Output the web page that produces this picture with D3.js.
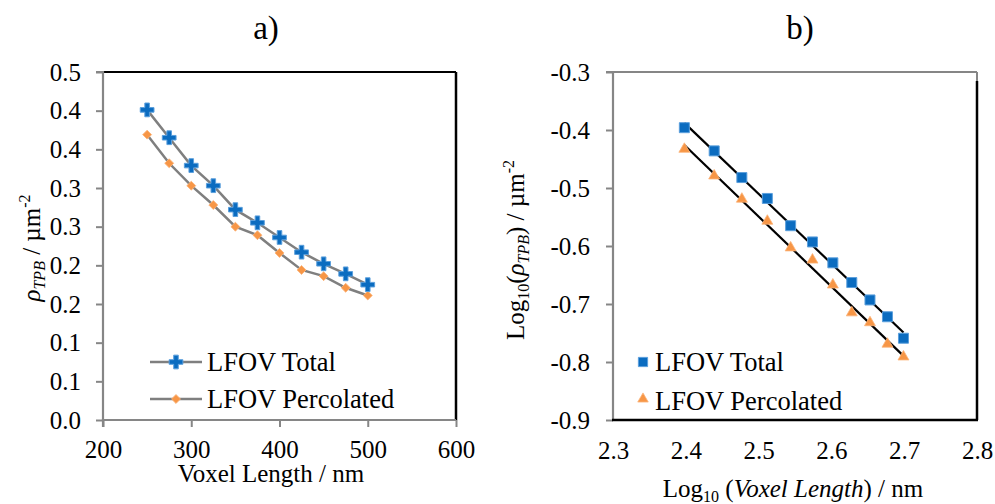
<!DOCTYPE html>
<html><head><meta charset="utf-8">
<script src="https://cdn.jsdelivr.net/npm/d3@7"></script>
<style>
html,body{margin:0;padding:0;background:#fff;}
</style></head>
<body><svg id="c" width="995" height="504"></svg>
<script>
// ---- data ----
const voxelLength = [250,275,300,325,350,375,400,425,450,475,500];
const totalDensity = [0.401,0.365,0.329,0.303,0.272,0.255,0.236,0.217,0.202,0.189,0.175];
const percolatedDensity = [0.369,0.332,0.303,0.278,0.250,0.239,0.216,0.194,0.186,0.171,0.161];
const logVoxel = [2.398,2.439,2.477,2.512,2.544,2.574,2.602,2.628,2.653,2.677,2.699];
const logTotal = [-0.396,-0.436,-0.482,-0.518,-0.565,-0.593,-0.629,-0.663,-0.693,-0.722,-0.759];
const logPercolated = [-0.433,-0.479,-0.519,-0.557,-0.603,-0.624,-0.667,-0.715,-0.732,-0.769,-0.791];
const leftYTicks = [0,0.05,0.10,0.15,0.20,0.25,0.30,0.35,0.40,0.45];
const leftYTickLabels = ["0.0","0.1","0.1","0.2","0.2","0.3","0.3","0.4","0.4","0.5"];
const leftXTicks = [200,300,400,500,600];
const rightXTicks = [2.3,2.4,2.5,2.6,2.7,2.8];
const rightYTicks = [-0.3,-0.4,-0.5,-0.6,-0.7,-0.8,-0.9];
const seriesNames = ["LFOV Total","LFOV Percolated"];

const SERIF = '"Liberation Serif", "Times New Roman", Times, serif';
const svg = d3.select("#c").attr("font-family", SERIF);
const GRAY = "#868686", BLUE = "#0b6cc0", BLUE_E = "#5b9fdc", ORANGE = "#f79646";
const FS = 25;

// helper: text content always inside a tspan
function label(sel, s){ sel.append("tspan").text(s); return sel; }

// ---------------- Panel a ----------------
const A = {l:103, r:456, t:72, b:420};
const xa = d3.scaleLinear().domain([200,600]).range([A.l, A.r]);
const ya = d3.scaleLinear().domain([0,0.45]).range([A.b, A.t]);
const ga = svg.append("g");

ga.append("line").attr("x1",A.l).attr("x2",A.r).attr("y1",A.t).attr("y2",A.t).attr("stroke","#000").attr("stroke-width",2);
ga.append("line").attr("x1",A.r).attr("x2",A.r).attr("y1",A.t).attr("y2",A.b).attr("stroke","#000").attr("stroke-width",2.5);

const axLa = ga.append("g").attr("transform",`translate(${A.l},0)`)
  .call(d3.axisLeft(ya).tickValues(leftYTicks).tickFormat((d,i)=>leftYTickLabels[i]).tickSize(7).tickPadding(15));
const axBa = ga.append("g").attr("transform",`translate(0,${A.b})`)
  .call(d3.axisBottom(xa).tickValues(leftXTicks).tickFormat(d3.format("d")).tickSize(7).tickPadding(13));
axLa.select(".domain").attr("d",`M-7,${A.t}H0V${A.b}`);
axBa.select(".domain").attr("d",`M${A.l},7V0H${A.r}`);

const lineA = d3.line().x((d,i)=>xa(voxelLength[i])).y(d=>ya(d));
ga.append("path").attr("d",lineA(totalDensity)).attr("fill","none").attr("stroke","#7f7f7f").attr("stroke-width",2.5);
ga.append("path").attr("d",lineA(percolatedDensity)).attr("fill","none").attr("stroke","#7f7f7f").attr("stroke-width",2.5);

const cross = d3.symbol().type(d3.symbolCross).size(105);
const diamond = d3.symbol().type(d3.symbolSquare).size(40);
ga.selectAll(".pd").data(percolatedDensity).join("path")
  .attr("d",diamond).attr("transform",(d,i)=>`translate(${xa(voxelLength[i])},${ya(d)}) rotate(45)`)
  .attr("fill",ORANGE).attr("stroke","#fbb47a").attr("stroke-width",0.8);
ga.selectAll(".td").data(totalDensity).join("path")
  .attr("d",cross).attr("transform",(d,i)=>`translate(${xa(voxelLength[i])},${ya(d)})`)
  .attr("fill",BLUE).attr("stroke",BLUE_E).attr("stroke-width",1);

// legend a
const legA = [{y:362, m:"cross"},{y:399, m:"diamond"}];
legA.forEach((L,i)=>{
  ga.append("line").attr("x1",150).attr("x2",202).attr("y1",L.y).attr("y2",L.y).attr("stroke","#7f7f7f").attr("stroke-width",2.5);
  if(L.m==="cross") ga.append("path").attr("d",cross).attr("transform",`translate(176,${L.y})`).attr("fill",BLUE).attr("stroke",BLUE_E).attr("stroke-width",1);
  else ga.append("path").attr("d",diamond).attr("transform",`translate(176,${L.y}) rotate(45)`).attr("fill",ORANGE).attr("stroke","#fbb47a").attr("stroke-width",0.8);
  label(ga.append("text").attr("x",207).attr("y",L.y+9).attr("font-size",26.5), seriesNames[i]);
});

// titles a
label(svg.append("text").attr("x",266).attr("y",39).attr("text-anchor","middle").attr("font-size",33), "a)");
label(svg.append("text").attr("x",271).attr("y",482).attr("text-anchor","middle").attr("font-size",FS), "Voxel Length / nm");
const yla = svg.append("text").attr("transform","translate(40,248) rotate(-90)").attr("text-anchor","middle").attr("font-size",FS);
yla.append("tspan").attr("font-style","italic").text("ρ");
yla.append("tspan").attr("font-style","italic").attr("font-size",16).attr("dy",5).text("TPB");
yla.append("tspan").attr("dy",-5).text(" / µm");
yla.append("tspan").attr("font-size",16).attr("dy",-10).text("-2");

// ---------------- Panel b ----------------
const B = {l:613, r:977, t:72, b:420};
const xb = d3.scaleLinear().domain([2.3,2.8]).range([B.l, B.r]);
const yb = d3.scaleLinear().domain([-0.9,-0.3]).range([B.b, B.t]);
const gb = svg.append("g");

gb.append("line").attr("x1",B.l).attr("x2",B.r).attr("y1",B.t).attr("y2",B.t).attr("stroke",GRAY).attr("stroke-width",2);
gb.append("line").attr("x1",B.r).attr("x2",B.r).attr("y1",B.t).attr("y2",B.t+9).attr("stroke",GRAY).attr("stroke-width",2);
gb.append("line").attr("x1",B.r).attr("x2",B.r).attr("y1",B.t+9).attr("y2",B.b).attr("stroke","#000").attr("stroke-width",2.5);

const axLb = gb.append("g").attr("transform",`translate(${B.l},0)`)
  .call(d3.axisLeft(yb).tickValues(rightYTicks).tickFormat(d=>d3.format(".1f")(d).replace("−","-")).tickSize(7).tickPadding(16));
const axBb = gb.append("g").attr("transform",`translate(0,${B.b})`)
  .call(d3.axisBottom(xb).tickValues(rightXTicks).tickFormat(d3.format(".1f")).tickSize(0).tickPadding(21));
axLb.select(".domain").attr("d",`M-7,${B.t}H0V${B.b}`);
axBb.select(".domain").attr("d",`M${B.l-1},0H${B.r+1}`);

// style all axes; wrap tick label text in tspans
[axLa,axBa,axLb,axBb].forEach(ax=>{
  ax.attr("font-family", SERIF).attr("font-size", FS);
  ax.select(".domain").attr("stroke",GRAY).attr("stroke-width",2.2);
  ax.selectAll(".tick line").attr("stroke",GRAY).attr("stroke-width",2);
  ax.selectAll(".tick text").attr("fill","#000").each(function(){
    const t = d3.select(this); const s = t.text(); t.text(null); t.append("tspan").text(s);
  });
});
axBb.select(".domain").attr("stroke","#000").attr("stroke-width",2.5);

// trend lines (least squares)
function fit(xs, ys){
  const mx = d3.mean(xs), my = d3.mean(ys);
  const s = d3.sum(xs.map((x,i)=>(x-mx)*(ys[i]-my))) / d3.sum(xs.map(x=>(x-mx)*(x-mx)));
  return x => my + s*(x-mx);
}
[logTotal, logPercolated].forEach(ys=>{
  const f = fit(logVoxel, ys);
  const x0 = d3.min(logVoxel), x1 = d3.max(logVoxel);
  gb.append("line").attr("x1",xb(x0)).attr("y1",yb(f(x0))).attr("x2",xb(x1)).attr("y2",yb(f(x1)))
    .attr("stroke","#000").attr("stroke-width",2.2);
});

const square = d3.symbol().type(d3.symbolSquare).size(100);
const tri = d3.symbol().type(d3.symbolTriangle).size(52);
gb.selectAll(".ts").data(logTotal).join("path")
  .attr("d",square).attr("transform",(d,i)=>`translate(${xb(logVoxel[i])},${yb(d)})`)
  .attr("fill",BLUE).attr("stroke",BLUE_E).attr("stroke-width",1);
gb.selectAll(".tp").data(logPercolated).join("path")
  .attr("d",tri).attr("transform",(d,i)=>`translate(${xb(logVoxel[i])},${yb(d)})`)
  .attr("fill",ORANGE).attr("stroke","#fbb47a").attr("stroke-width",0.8);

// legend b
gb.append("path").attr("d",d3.symbol().type(d3.symbolSquare).size(85)).attr("transform","translate(643,362)").attr("fill",BLUE).attr("stroke",BLUE_E).attr("stroke-width",1);
label(gb.append("text").attr("x",655).attr("y",371).attr("font-size",26.5), seriesNames[0]);
gb.append("path").attr("d",d3.symbol().type(d3.symbolTriangle).size(48)).attr("transform","translate(643,399)").attr("fill",ORANGE).attr("stroke","#fbb47a").attr("stroke-width",0.8);
label(gb.append("text").attr("x",655).attr("y",410).attr("font-size",26.5), seriesNames[1]);

// titles b
label(svg.append("text").attr("x",800).attr("y",39).attr("text-anchor","middle").attr("font-size",33), "b)");
const xlb = svg.append("text").attr("x",793).attr("y",497).attr("text-anchor","middle").attr("font-size",FS);
xlb.append("tspan").text("Log");
xlb.append("tspan").attr("font-size",16).attr("dy",5).text("10");
xlb.append("tspan").attr("dy",-5).text(" (");
xlb.append("tspan").attr("font-style","italic").text("Voxel Length");
xlb.append("tspan").text(") / nm");
const ylb = svg.append("text").attr("transform","translate(524,250) rotate(-90)").attr("text-anchor","middle").attr("font-size",FS);
ylb.append("tspan").text("Log");
ylb.append("tspan").attr("font-size",16).attr("dy",5).text("10");
ylb.append("tspan").attr("dy",-5).text("(");
ylb.append("tspan").attr("font-style","italic").text("ρ");
ylb.append("tspan").attr("font-style","italic").attr("font-size",16).attr("dy",5).text("TPB");
ylb.append("tspan").attr("dy",-5).text(") / µm");
ylb.append("tspan").attr("font-size",16).attr("dy",-10).text("-2");

svg.selectAll("text, tspan").style("font-family", SERIF);
</script></body></html>
